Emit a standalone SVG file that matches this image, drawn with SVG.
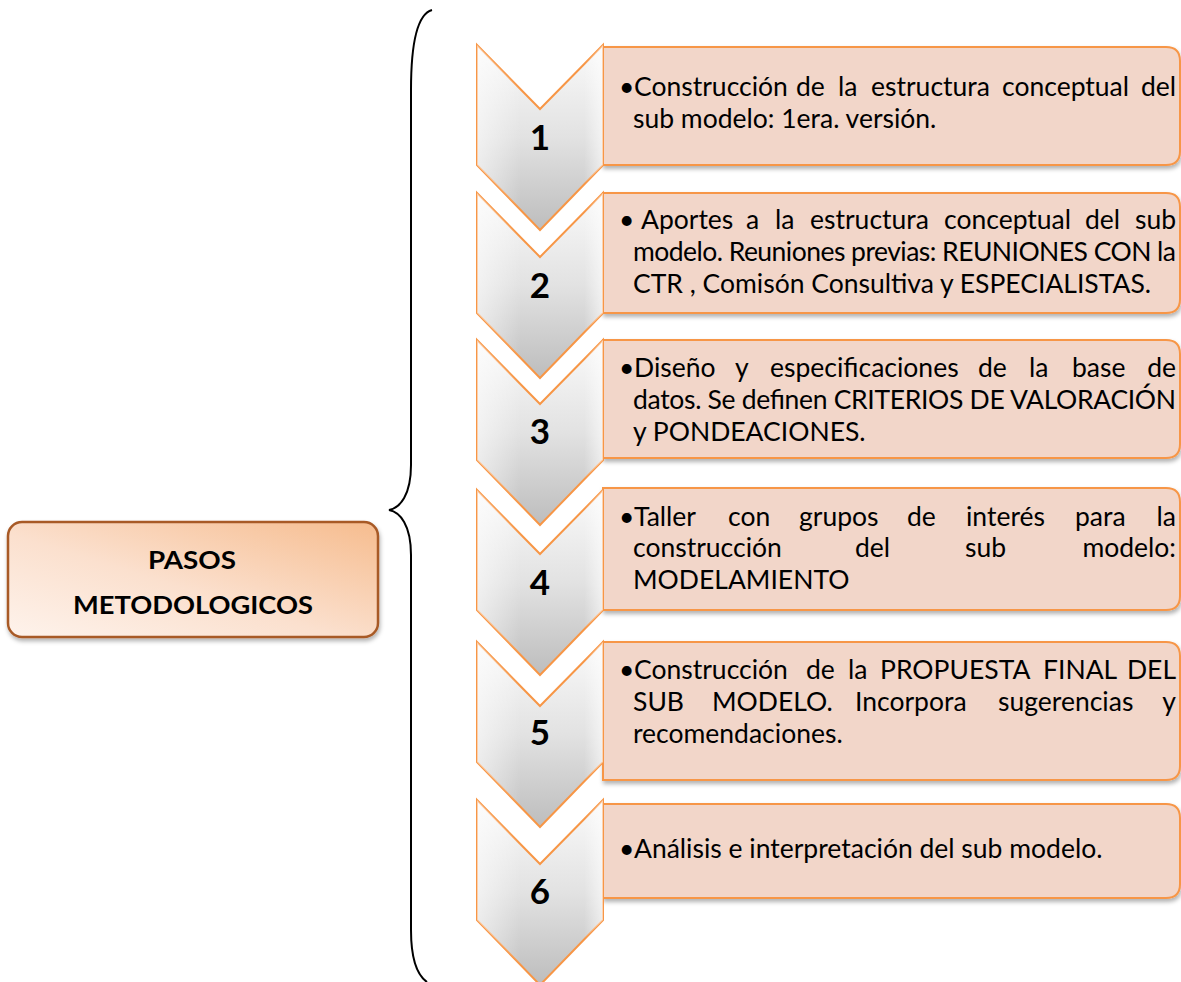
<svg xmlns="http://www.w3.org/2000/svg" width="1181" height="982" viewBox="0 0 1181 982">
<defs>
<linearGradient id="chev" x1="0" y1="0" x2="0" y2="1">
<stop offset="0" stop-color="#FAFAFA"/>
<stop offset="0.5" stop-color="#E2E2E2"/>
<stop offset="1" stop-color="#BDBDBD"/>
</linearGradient>
<linearGradient id="chevHi" x1="0" y1="0" x2="1" y2="0">
<stop offset="0" stop-color="#FFFFFF" stop-opacity="0.55"/>
<stop offset="0.35" stop-color="#FFFFFF" stop-opacity="0"/>
<stop offset="0.85" stop-color="#FFFFFF" stop-opacity="0"/>
<stop offset="1" stop-color="#FFFFFF" stop-opacity="0.6"/>
</linearGradient>
<linearGradient id="leftFill" x1="0" y1="1" x2="1" y2="0">
<stop offset="0" stop-color="#FEF3EC"/>
<stop offset="0.45" stop-color="#FBE0CE"/>
<stop offset="1" stop-color="#F6BC8E"/>
</linearGradient>
<filter id="sh" x="-5%" y="-10%" width="115%" height="130%">
<feDropShadow dx="1" dy="3" stdDeviation="2" flood-color="#000" flood-opacity="0.3"/>
</filter>
<polygon id="chevShape" points="477,0 540,64 603,0 603,120 540,185 477,120"/>
</defs>
<style>
.box{fill:#F2D6C9;stroke:#F79646;stroke-width:2;filter:url(#sh)}
.chev{fill:url(#chev);stroke:#F79646;stroke-width:2;stroke-linejoin:miter}
.hi{fill:url(#chevHi);stroke:none}
.num{font-family:Lato,"Liberation Sans",sans-serif;font-weight:bold;font-size:35px;fill:#000;text-anchor:middle}
.bt{font-family:Lato,"Liberation Sans",sans-serif;font-size:26.5px;fill:#000}
.e{text-anchor:end}
.lt{font-family:Lato,"Liberation Sans",sans-serif;font-weight:bold;font-size:25px;fill:#000;text-anchor:middle}
.brace{fill:none;stroke:#000;stroke-width:2}
</style>

<g id="connectors">
<path class="brace" d="M432,10 C418,14 411,40 411,90 L411,465 C411,495 400,508 389,510 C400,512 411,525 411,555 L411,930 C411,960 417,975 427,982"/>
</g>

<g id="pasos-metodologicos">
<rect x="8" y="522" width="370" height="115" rx="14" ry="14" fill="url(#leftFill)" stroke="#A85A28" stroke-width="2.5" filter="url(#sh)"/>
<text class="lt" x="192" y="569" textLength="88" lengthAdjust="spacingAndGlyphs">PASOS</text>
<text class="lt" x="193" y="614" textLength="240" lengthAdjust="spacingAndGlyphs">METODOLOGICOS</text>
</g>

<g id="step-1">
<path class="box" d="M603,47 H1166 Q1180,47 1180,61 V151 Q1180,165 1166,165 H603 Z"/>
<g transform="translate(0,45)"><use href="#chevShape" class="chev"/><use href="#chevShape" class="hi"/></g>
<text class="num" x="540" y="150">1</text>
<text class="bt" x="619" y="96">•</text>
<text class="bt" y="96"><tspan x="634">Construcción</tspan><tspan x="796">de</tspan><tspan x="838">la</tspan><tspan x="871">estructura</tspan><tspan x="1002">conceptual</tspan><tspan x="1176" class="e">del</tspan></text>
<text class="bt" x="633" y="128">sub modelo: 1era. versión.</text>
</g>

<g id="step-2">
<path class="box" d="M603,193 H1166 Q1180,193 1180,207 V299 Q1180,313 1166,313 H603 Z"/>
<g transform="translate(0,193)"><use href="#chevShape" class="chev"/><use href="#chevShape" class="hi"/></g>
<text class="num" x="540" y="298">2</text>
<text class="bt" x="619" y="229">•</text>
<text class="bt" y="229"><tspan x="641">Aportes</tspan><tspan x="746">a</tspan><tspan x="775">la</tspan><tspan x="810">estructura</tspan><tspan x="944">conceptual</tspan><tspan x="1085">del</tspan><tspan x="1176" class="e">sub</tspan></text>
<text class="bt" x="633" y="261" textLength="543" lengthAdjust="spacing">modelo. Reuniones previas: REUNIONES CON la</text>
<text class="bt" x="633" y="293">CTR , Comisón Consultiva y ESPECIALISTAS.</text>
</g>

<g id="step-3">
<path class="box" d="M603,340 H1166 Q1180,340 1180,354 V444 Q1180,458 1166,458 H603 Z"/>
<g transform="translate(0,340)"><use href="#chevShape" class="chev"/><use href="#chevShape" class="hi"/></g>
<text class="num" x="540" y="444">3</text>
<text class="bt" x="619" y="377">•</text>
<text class="bt" y="377"><tspan x="634">Diseño</tspan><tspan x="735">y</tspan><tspan x="770">especificaciones</tspan><tspan x="978">de</tspan><tspan x="1029">la</tspan><tspan x="1072">base</tspan><tspan x="1176" class="e">de</tspan></text>
<text class="bt" x="633" y="409" textLength="543" lengthAdjust="spacing">datos. Se definen CRITERIOS DE VALORACIÓN</text>
<text class="bt" x="633" y="441">y PONDEACIONES.</text>
</g>

<g id="step-4">
<path class="box" d="M603,488 H1166 Q1180,488 1180,502 V596 Q1180,610 1166,610 H603 Z"/>
<g transform="translate(0,490)"><use href="#chevShape" class="chev"/><use href="#chevShape" class="hi"/></g>
<text class="num" x="540" y="595">4</text>
<text class="bt" x="619" y="526">•</text>
<text class="bt" y="526"><tspan x="634">Taller</tspan><tspan x="728">con</tspan><tspan x="799">grupos</tspan><tspan x="907">de</tspan><tspan x="966">interés</tspan><tspan x="1075">para</tspan><tspan x="1176" class="e">la</tspan></text>
<text class="bt" y="557"><tspan x="633">construcción</tspan><tspan x="855">del</tspan><tspan x="965">sub</tspan><tspan x="1176" class="e">modelo:</tspan></text>
<text class="bt" x="633" y="589">MODELAMIENTO</text>
</g>

<g id="step-5">
<path class="box" d="M603,642 H1166 Q1180,642 1180,656 V766 Q1180,780 1166,780 H603 Z"/>
<g transform="translate(0,642)"><use href="#chevShape" class="chev"/><use href="#chevShape" class="hi"/></g>
<text class="num" x="540" y="745">5</text>
<text class="bt" x="619" y="679">•</text>
<text class="bt" y="679"><tspan x="634">Construcción</tspan><tspan x="806">de</tspan><tspan x="848">la</tspan><tspan x="880">PROPUESTA</tspan><tspan x="1043">FINAL</tspan><tspan x="1176" class="e">DEL</tspan></text>
<text class="bt" y="711"><tspan x="633">SUB</tspan><tspan x="712">MODELO.</tspan><tspan x="855">Incorpora</tspan><tspan x="998">sugerencias</tspan><tspan x="1176" class="e">y</tspan></text>
<text class="bt" x="633" y="743">recomendaciones.</text>
</g>

<g id="step-6">
<path class="box" d="M603,804 H1166 Q1180,804 1180,818 V884 Q1180,898 1166,898 H603 Z"/>
<g transform="translate(0,800)"><use href="#chevShape" class="chev"/><use href="#chevShape" class="hi"/></g>
<text class="num" x="540" y="904">6</text>
<text class="bt" x="619" y="858">•</text>
<text class="bt" x="634" y="858">Análisis e interpretación del sub modelo.</text>
</g>
</svg>
